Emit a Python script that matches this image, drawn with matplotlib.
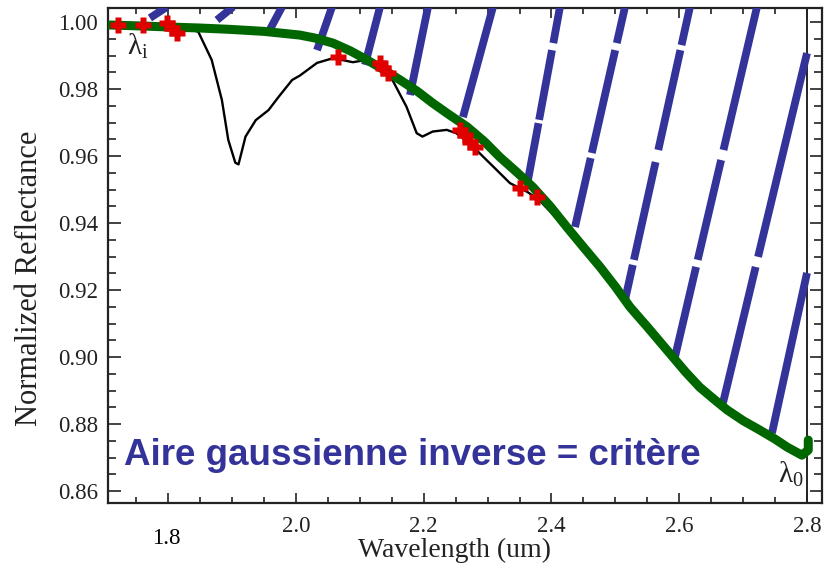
import numpy as np
import matplotlib
matplotlib.use('Agg')
import matplotlib.pyplot as plt
from matplotlib.ticker import MultipleLocator, FixedLocator, FixedFormatter

plt.rcParams['mathtext.fontset'] = 'custom'
plt.rcParams['mathtext.rm'] = 'Liberation Serif'
plt.rcParams['mathtext.it'] = 'Liberation Serif'

# spectrum (black)
spec_x = [1.710, 1.780, 1.820, 1.847, 1.868, 1.884, 1.894, 1.905, 1.910, 1.921, 1.937,
          1.957, 1.973, 1.994, 2.006, 2.033, 2.058, 2.089, 2.111, 2.131, 2.151, 2.173,
          2.189, 2.198, 2.214, 2.236, 2.251, 2.277, 2.309, 2.335, 2.362, 2.380, 2.420,
          2.470, 2.520, 2.560, 2.600, 2.650, 2.700, 2.750, 2.790, 2.800, 2.802]
spec_y = [0.9993, 0.9990, 0.9985, 0.9971, 0.9887, 0.9767, 0.9648, 0.9580, 0.9575, 0.9658, 0.9707,
          0.9737, 0.9777, 0.9827, 0.9840, 0.9878, 0.9892, 0.9880, 0.9887, 0.9857, 0.9827, 0.9747,
          0.9668, 0.9658, 0.9673, 0.9678, 0.9668, 0.9628, 0.9568, 0.9519, 0.9493, 0.9470, 0.9390,
          0.9275, 0.9150, 0.9060, 0.8975, 0.8885, 0.8810, 0.8755, 0.8715, 0.8725, 0.8760]

# inverse gaussian fit (green)
fit_x = [1.709, 1.760, 1.803, 1.850, 1.897, 1.950, 2.006, 2.030, 2.058, 2.085, 2.111,
         2.137, 2.163, 2.190, 2.214, 2.240, 2.268, 2.295, 2.319, 2.345, 2.371, 2.398,
         2.424, 2.450, 2.476, 2.500, 2.523, 2.550, 2.590, 2.610, 2.632, 2.655, 2.675,
         2.700, 2.726, 2.750, 2.769, 2.792, 2.802, 2.802]
fit_y = [0.9991, 0.9988, 0.9985, 0.9982, 0.9978, 0.9972, 0.9961, 0.9952, 0.9937, 0.9914, 0.9887,
         0.9858, 0.9827, 0.9793, 0.9758, 0.9723, 0.9687, 0.9643, 0.9597, 0.9553, 0.9507, 0.9450,
         0.9388, 0.9328, 0.9269, 0.9210, 0.9149, 0.9090, 0.9000, 0.8955, 0.8910, 0.8873, 0.8842,
         0.8810, 0.8782, 0.8755, 0.8731, 0.8707, 0.8722, 0.8752]

# selected points (red crosses)
pts_x = [1.7213, 1.7605, 1.798, 1.806, 1.8137, 2.0658, 2.1315, 2.1362, 2.144,
         2.2567, 2.2645, 2.2724, 2.2802, 2.3507, 2.3773]
pts_y = [0.9991, 0.9991, 0.9997, 0.9982, 0.9967, 0.9896, 0.9878, 0.9863, 0.9848,
         0.9678, 0.9663, 0.9642, 0.9627, 0.9504, 0.9478]

# hatching of the area (blue strokes): bottom and top ends, and white breaks
hatch_x0 = [1.7714, 1.8763, 1.9562, 2.0329, 2.1080, 2.1785, 2.2614, 2.3632, 2.4368, 2.5151, 2.5933, 2.6685, 2.7452]
hatch_y0 = [1.0012, 1.0006, 0.9967, 0.9916, 0.9872, 0.9782, 0.9716, 0.9528, 0.9388, 0.9170, 0.9000, 0.8863, 0.8773]
hatch_x1 = [1.7980, 1.9014, 1.9781, 2.0564, 2.1315, 2.2067, 2.3084, 2.4133, 2.5151, 2.6168, 2.7217, 2.8000, 2.8000]
hatch_y1 = [1.0045, 1.0045, 1.0045, 1.0045, 1.0045, 1.0045, 1.0045, 1.0045, 1.0045, 1.0045, 1.0045, 0.9907, 0.9251]
hatch_gaps = [[], [], [], [], [], [], [],
              [(0.9916, 0.9937), (0.9698, 0.9708)],
              [(0.9916, 0.9937), (0.9594, 0.9609)],
              [(0.9916, 0.9931), (0.9582, 0.9618), (0.9275, 0.9290)],
              [(0.9588, 0.9618), (0.9269, 0.9290)],
              [(0.9269, 0.9299)],
              []]

xticks = [1.8, 2.0, 2.2, 2.4, 2.6, 2.8]
xlabels = ['', '2.0', '2.2', '2.4', '2.6', '2.8']

fig = plt.figure(figsize=(8.33, 5.66), dpi=100)
ax = fig.add_axes([108/833, 1-503/566, (822-108)/833, (503-8)/566])

ax.plot(spec_x, spec_y, color='black', lw=1.7, zorder=2)

# blue strokes, cut where the slide has white breaks
for i in range(len(hatch_x0)):
    x0, y0, x1, y1 = hatch_x0[i], hatch_y0[i], hatch_x1[i], hatch_y1[i]
    cuts = [y0]
    for lo, hi in sorted(hatch_gaps[i]):
        cuts += [lo, hi]
    cuts.append(y1)
    for k in range(0, len(cuts), 2):
        ya, yb = cuts[k], cuts[k+1]
        xa = x0 + (x1-x0)*(ya-y0)/(y1-y0)
        xb = x0 + (x1-x0)*(yb-y0)/(y1-y0)
        ax.plot([xa, xb], [ya, yb], color='#333399', lw=5.6, solid_capstyle='butt', zorder=3)

ax.plot(fit_x, fit_y, color='#006600', lw=6.5, solid_capstyle='round', solid_joinstyle='round', zorder=4)
ax.plot(pts_x, pts_y, ls='none', marker='P', ms=11, color='#e00000', mec='none', zorder=5)
ax.axvline(2.8, color='black', lw=1.2, zorder=1)

ax.set_xlim(1.7057, 2.8235)
ax.set_ylim(0.85642, 1.00418)

ax.xaxis.set_major_locator(FixedLocator(xticks))
ax.xaxis.set_major_formatter(FixedFormatter(xlabels))
ax.xaxis.set_minor_locator(MultipleLocator(0.05))
ax.yaxis.set_major_locator(MultipleLocator(0.02))
ax.yaxis.set_minor_locator(MultipleLocator(0.005))
ax.yaxis.set_major_formatter(plt.FormatStrFormatter('%.2f'))

ax.tick_params(which='both', direction='in', top=True, right=True, width=1.2, color='#222222')
ax.tick_params(axis='x', which='major', length=7, pad=9)
ax.tick_params(axis='x', which='minor', length=4)
ax.tick_params(axis='y', which='major', length=9, pad=7)
ax.tick_params(axis='y', which='minor', length=6)
for lab in ax.get_xticklabels() + ax.get_yticklabels():
    lab.set_fontfamily('Liberation Serif')
    lab.set_fontsize(16.5)
    lab.set_color('#222222')
for s in ax.spines.values():
    s.set_linewidth(1.6)
    s.set_color('#222222')

# the 1.8 label sits lower than the others
ax.text(1.7965, 0.84597, '1.8', fontfamily='Liberation Serif', fontsize=16.5,
        ha='center', va='center', clip_on=False)

fig.text(455/833, 1-557/566, 'Wavelength (um)', fontfamily='Liberation Serif', fontsize=20,
         ha='center', va='baseline', color='#222222')
fig.text(37/833, 1-278/566, 'Normalized Reflectance', fontfamily='Liberation Serif', fontsize=22,
         ha='center', va='baseline', rotation=90, rotation_mode='anchor', color='#222222')

ax.text(1.7354, 0.9901, r'$\lambda_\mathrm{i}$', fontsize=21, color='#222222', zorder=6)
ax.text(2.7546, 0.8624, r'$\lambda_0$', fontsize=21, color='#222222', zorder=6)

ax.text(1.7307, 0.8678, 'Aire gaussienne inverse = critère', fontfamily='Liberation Sans',
        fontweight='bold', fontsize=26.5, color='#333399', va='baseline', zorder=7)

fig.savefig('out.png', dpi=100)
